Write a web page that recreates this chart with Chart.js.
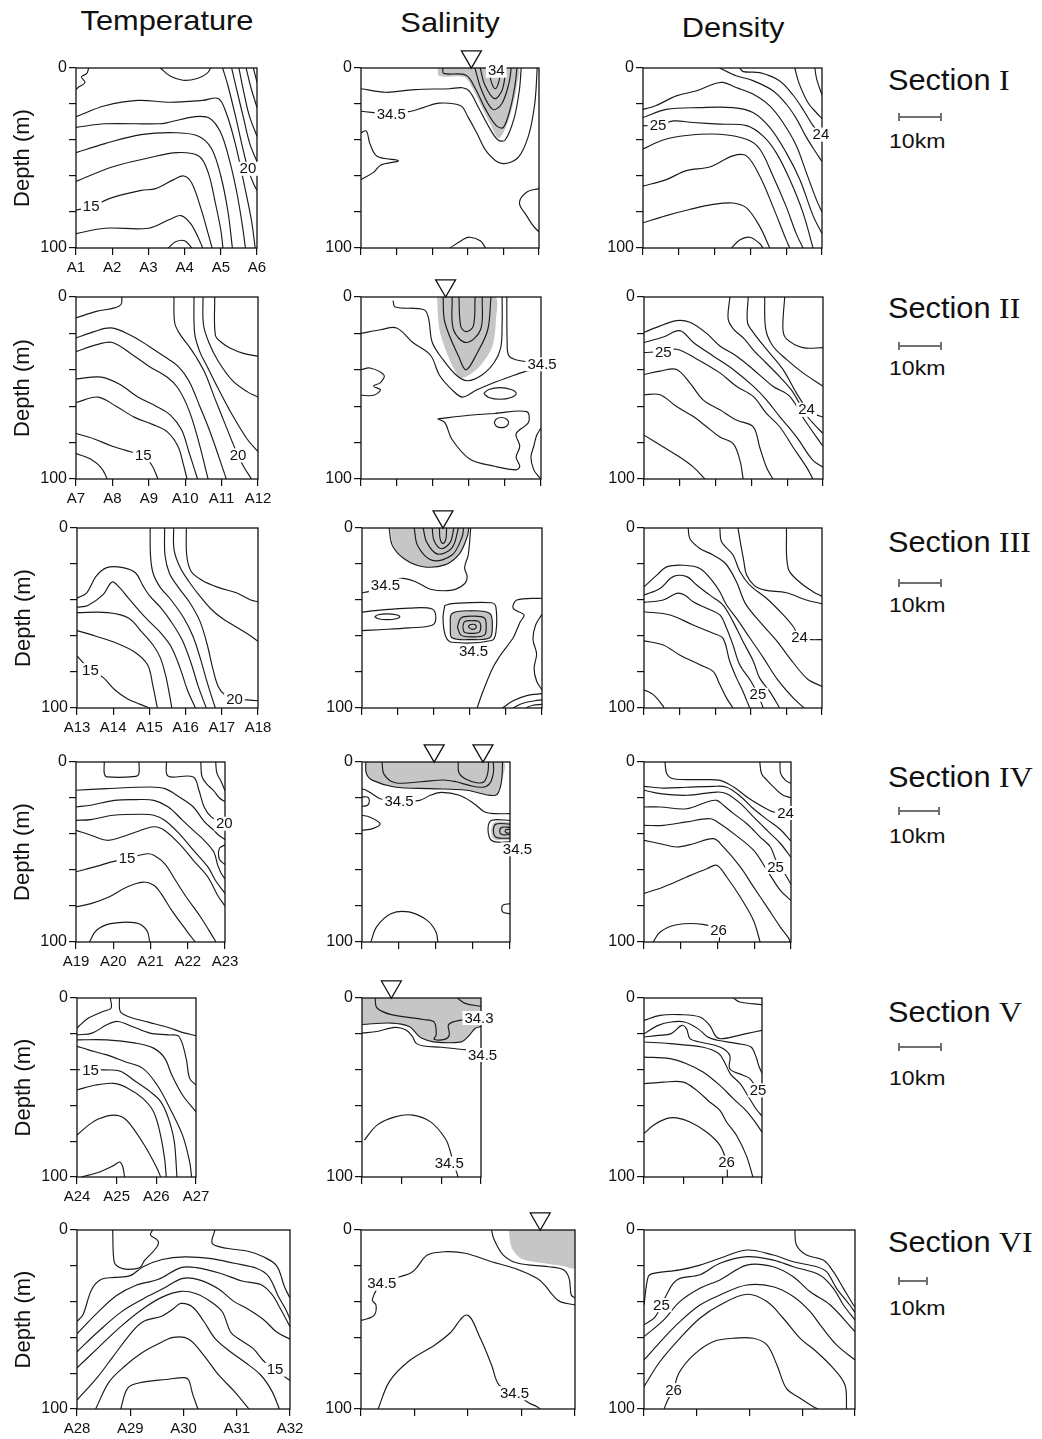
<!DOCTYPE html>
<html>
<head>
  <meta charset="utf-8">
  <title>Temperature, Salinity and Density Sections</title>
  <script src="https://cdn.jsdelivr.net/npm/chart.js"></script>
  <style>
    body { margin: 0; background: #fff; font-family: 'Liberation Sans', Arial, sans-serif; color: #111; }
    #page { position: relative; width: 1042px; height: 1439px; overflow: hidden; }
    canvas { position: absolute; }
    .title { position: absolute; font-size: 28px; line-height: 1; white-space: nowrap; transform: translateX(-50%) scaleX(1.1); }
    .sec { position: absolute; left: 888px; font-size: 29px; line-height: 1; white-space: nowrap; transform-origin: left; transform: scaleX(1.06); }
    .sec b { font-family: 'Liberation Serif', 'Times New Roman', serif; font-weight: normal; font-size: 30px; }
    .bar { position: absolute; left: 898px; height: 2px; background: #707070; }
    .bar:before, .bar:after { content: ''; position: absolute; top: -3px; width: 2px; height: 8px; background: #707070; }
    .bar:before { left: 0; }
    .bar:after { right: 0; }
    .km { position: absolute; left: 889px; font-size: 21px; line-height: 1; transform-origin: left; transform: scaleX(1.1); }
  </style>
</head>
<body>
<div id="page">
  <div class="title" style="left:167px;top:7px">Temperature</div>
  <div class="title" style="left:450px;top:9px">Salinity</div>
  <div class="title" style="left:733px;top:14px">Density</div>

  <div class="sec" style="top:65px">Section <b>I</b></div>
  <div class="bar" style="top:116px;width:44px"></div>
  <div class="km" style="top:130px">10km</div>

  <div class="sec" style="top:293px">Section <b>II</b></div>
  <div class="bar" style="top:345px;width:44px"></div>
  <div class="km" style="top:357px">10km</div>

  <div class="sec" style="top:527px">Section <b>III</b></div>
  <div class="bar" style="top:582px;width:44px"></div>
  <div class="km" style="top:594px">10km</div>

  <div class="sec" style="top:762px">Section <b>IV</b></div>
  <div class="bar" style="top:810px;width:42px"></div>
  <div class="km" style="top:825px">10km</div>

  <div class="sec" style="top:997px">Section <b>V</b></div>
  <div class="bar" style="top:1046px;width:44px"></div>
  <div class="km" style="top:1067px">10km</div>

  <div class="sec" style="top:1227px">Section <b>VI</b></div>
  <div class="bar" style="top:1280px;width:30px"></div>
  <div class="km" style="top:1297px">10km</div>
</div>

<script>
  // ---- station names (x axis of the temperature panels) ----
  const stationsI = ['A1', 'A2', 'A3', 'A4', 'A5', 'A6'];
  const stationsII = ['A7', 'A8', 'A9', 'A10', 'A11', 'A12'];
  const stationsIII = ['A13', 'A14', 'A15', 'A16', 'A17', 'A18'];
  const stationsIV = ['A19', 'A20', 'A21', 'A22', 'A23'];
  const stationsV = ['A24', 'A25', 'A26', 'A27'];
  const stationsVI = ['A28', 'A29', 'A30', 'A31', 'A32'];

  const depthTicks = [0, 50, 100];
  const markDepth = -6.3; // river mouth triangles just above the surface

  // ---- contour lines: [station, depth, station, depth, ...] ----
  const tempI = [
    [0.35, 0, 0.3, 3, 0.15, 5, 0.25, 8, 0.05, 11, 0, 12],
    [2.33, 0, 2.6, 4.5, 2.95, 6.8, 3.35, 5.8, 3.62, 3, 3.72, 0],
    [0, 27, 0.8, 21, 1.7, 18, 2.6, 19, 3.5, 18, 3.93, 17, 4.15, 25, 4.4, 42, 4.65, 65, 4.85, 85, 4.95, 100],
    [0, 33, 0.8, 31, 2.3, 31, 2.6, 30, 3.3, 27, 3.7, 28, 4.0, 36, 4.25, 52, 4.45, 70, 4.6, 88, 4.68, 100],
    [0, 47, 0.8, 42, 1.8, 37, 2.8, 36, 3.4, 38, 3.75, 45, 4.0, 60, 4.2, 80, 4.32, 100],
    [0, 63, 1, 55, 2, 50, 2.8, 47, 3.4, 49, 3.65, 58, 3.85, 75, 4.0, 90, 4.06, 100],
    [0, 79, 0.42, 77, 1.0, 72, 1.8, 68, 2.2, 67, 2.7, 62, 2.98, 60, 3.2, 64, 3.45, 78, 3.65, 92, 3.76, 100],
    [0, 92, 0.8, 89, 2.0, 89, 2.6, 84, 2.9, 82, 3.15, 86, 3.35, 93, 3.5, 100],
    [2.55, 100, 2.75, 96.5, 3.0, 96, 3.2, 100],
    [4.05, 0, 4.2, 10, 4.42, 28, 4.6, 44, 4.75, 56, 4.9, 64, 5, 68],
    [4.3, 0, 4.44, 12, 4.63, 28, 4.8, 42, 5, 52],
    [4.5, 0, 4.62, 12, 4.78, 26, 5, 38],
    [4.7, 0, 4.82, 10, 5, 22],
    [4.9, 0, 5, 8]
  ];
  const tempLabI = [[0.42, 77, '15'], [4.75, 56, '20']];

  const salFillI = [
    [2.15, 0, 4.4, 0, 4.38, 10, 4.22, 24, 4.0, 36, 3.85, 39, 3.65, 32, 3.35, 20, 3.1, 10, 2.9, 5, 2.2, 4.5, 2.15, 0]
  ];
  const salI = [
    [3.6, 0, 3.65, 7, 3.77, 11.5, 3.88, 7, 3.92, 0],
    [3.35, 0, 3.47, 9, 3.75, 17, 3.97, 12, 4.07, 0],
    [3.2, 0, 3.38, 12, 3.7, 23, 3.95, 20, 4.15, 9, 4.22, 0],
    [2.3, 0, 2.32, 3, 2.95, 4, 3.2, 11, 3.5, 23, 3.8, 32, 4.0, 33, 4.2, 22, 4.33, 9, 4.38, 0],
    [0, 11.5, 0.7, 13.5, 1.5, 12, 2.5, 11.5, 2.85, 11, 3.05, 13, 3.3, 22, 3.6, 33, 3.85, 40, 4.05, 40, 4.3, 28, 4.45, 12, 4.5, 0],
    [0, 24, 0.85, 25.5, 1.4, 24, 1.75, 22, 2.2, 19.5, 2.8, 21, 3.0, 27, 3.25, 36, 3.55, 47, 3.95, 53, 4.4, 50, 4.7, 38, 4.88, 20, 4.95, 0],
    [0, 36, 0.15, 35, 0.25, 42, 0.45, 49, 1.05, 51.5, 0.55, 54, 0.35, 58, 0, 62],
    [5, 67, 4.65, 69, 4.45, 75, 4.65, 82, 4.85, 88, 5, 91],
    [2.5, 100, 2.85, 95.5, 3.05, 94, 3.35, 96, 3.5, 100]
  ];
  const salLabI = [[3.8, 1.5, '34'], [0.85, 25.5, '34.5']];
  const salMarkI = [3.1];

  const denI = [
    [0, 23, 0.35, 21, 0.93, 15.5, 1.5, 12.6, 1.96, 9, 2.23, 8, 2.6, 10.8, 3.07, 14.5, 3.54, 21, 3.9, 30, 4.28, 43, 4.56, 58, 4.84, 73, 5, 80],
    [0, 27.5, 0.65, 23, 1.58, 22, 2.51, 22, 3.07, 24.7, 3.54, 33, 4.0, 47, 4.38, 62, 4.75, 82, 5, 92],
    [0, 32, 0.42, 32, 0.85, 29.4, 1.4, 30.3, 2.14, 31.2, 2.89, 32, 3.35, 37.7, 3.72, 47, 4.1, 62, 4.47, 80.5, 4.75, 100],
    [0, 45, 0.56, 40, 1.21, 37.5, 2.14, 36.8, 2.89, 39.6, 3.26, 45, 3.63, 60, 4.0, 77, 4.28, 92, 4.47, 100],
    [0, 65.6, 0.65, 62, 1.21, 57, 1.86, 55, 2.51, 48.8, 2.89, 48.8, 3.26, 60, 3.63, 77, 4.0, 95.5, 4.1, 100],
    [0, 86, 0.65, 82, 1.3, 78.6, 1.96, 75.8, 2.51, 75, 2.89, 77.7, 3.26, 88, 3.54, 100],
    [2.47, 100, 2.7, 95.5, 2.98, 94, 3.26, 97.5, 3.35, 100],
    [2.14, 0, 2.6, 4.3, 3.07, 7, 3.63, 12.6, 4.0, 20, 4.28, 28, 4.55, 38, 4.8, 46, 5, 52],
    [2.7, 0, 2.8, 2, 3.26, 2.6, 3.8, 7, 4.19, 15, 4.5, 24, 4.75, 32, 5, 38],
    [4.24, 0, 4.35, 8, 4.6, 19, 4.85, 25, 5, 28],
    [4.8, 0, 4.85, 6, 5, 15]
  ];
  const denLabI = [[0.42, 32, '25'], [4.97, 37, '24']];

  const tempII = [
    [0, 11.5, 0.56, 7.9, 1.06, 6, 1.24, 4, 1.26, 0],
    [0, 86, 0.4, 89, 0.7, 94, 0.86, 100],
    [0, 75, 0.5, 78, 1.0, 82, 1.5, 85, 1.85, 87, 2.1, 93, 2.25, 100],
    [0, 58, 0.6, 55, 1.1, 60, 1.6, 66, 2.1, 70, 2.5, 74, 2.8, 82, 2.95, 92, 3.05, 100],
    [0, 45, 0.7, 44, 1.2, 48, 1.7, 55, 2.2, 60, 2.6, 65, 2.9, 73, 3.1, 85, 3.34, 100],
    [0, 30, 0.6, 26, 1.0, 25, 1.5, 31, 2.0, 38, 2.5, 44, 2.8, 50, 3.1, 62, 3.35, 78, 3.63, 100],
    [0, 22.5, 0.5, 19, 0.96, 17, 1.5, 21, 2.0, 27, 2.45, 33, 2.8, 38, 3.1, 46, 3.4, 60, 3.7, 75, 4.13, 100],
    [2.69, 0, 2.71, 14, 2.84, 20, 3.1, 27, 3.3, 33, 3.55, 42, 3.8, 55, 4.1, 70, 4.3, 80, 4.45, 87, 4.6, 93, 4.82, 100],
    [3.24, 0, 3.26, 20, 3.4, 30, 3.6, 38, 3.9, 50, 4.3, 65, 4.7, 78, 5, 85],
    [3.49, 0, 3.5, 15, 3.65, 25, 3.9, 35, 4.3, 46, 4.7, 52, 5, 55],
    [3.81, 0, 3.83, 21, 4.0, 25, 4.23, 28, 4.6, 31, 5, 32.6]
  ];
  const tempLabII = [[1.85, 87, '15'], [4.45, 87, '20']];

  const salFillII = [
    [2.11, 0, 3.72, 0, 3.75, 12, 3.65, 27, 3.3, 38, 2.9, 44, 2.72, 44, 2.43, 33, 2.18, 18, 2.11, 0]
  ];
  const salII = [
    [2.72, 0, 2.77, 16, 2.92, 19, 3.12, 16, 3.17, 0],
    [2.53, 0, 2.57, 18, 2.92, 25, 3.32, 18, 3.37, 0],
    [2.28, 0, 2.33, 14, 2.72, 33, 2.92, 40, 3.22, 31, 3.52, 18, 3.61, 0],
    [0.89, 2, 0.95, 5.5, 1.75, 7, 1.88, 12, 1.98, 25, 2.3, 35, 2.65, 43, 2.95, 46, 3.35, 43, 3.7, 36, 3.88, 28, 3.92, 15, 3.92, 0],
    [4.05, 0, 4.06, 25, 4.1, 32, 4.3, 34.5, 4.65, 35.5, 5, 35.5],
    [0, 20, 0.54, 18, 0.99, 17, 1.44, 25, 1.93, 32, 2.18, 43, 2.53, 51, 2.82, 55, 3.22, 51, 3.7, 47, 4.11, 44, 4.55, 41, 5, 39],
    [0, 40, 0.25, 39, 0.64, 43, 0.54, 47, 0.35, 49, 0.54, 51, 0.35, 54, 0, 54],
    [3.41, 53, 3.55, 50.8, 3.86, 49.8, 4.17, 50.8, 4.31, 53, 4.17, 55.2, 3.86, 56.2, 3.55, 55.2, 3.41, 53],
    [2.13, 67, 3.0, 65, 3.71, 64, 4.6, 63, 4.65, 69, 4.31, 75, 4.41, 82, 4.31, 88, 4.41, 93, 4.31, 95, 3.71, 93, 3.02, 89, 2.52, 78, 2.33, 69, 2.13, 67],
    [3.7, 69, 3.76, 67, 3.9, 66.2, 4.04, 67, 4.1, 69, 4.04, 71, 3.9, 71.8, 3.76, 71, 3.7, 69],
    [5, 72, 4.88, 76, 4.8, 82, 4.72, 88, 4.8, 95, 4.95, 99, 5, 100]
  ];
  const salLabII = [[5.03, 37, '34.5']];
  const salMarkII = [2.35];

  const denII = [
    [0, 19.4, 0.35, 16.7, 0.91, 13, 1.28, 13.9, 1.75, 20, 2.12, 26.9, 2.58, 32.4, 3.05, 39.8, 3.6, 49, 4.07, 54.6, 4.5, 68, 5, 82],
    [0, 25, 0.54, 22, 1.0, 18.5, 1.38, 25, 1.93, 32.4, 2.49, 39.8, 3.05, 49, 3.42, 56.5, 3.79, 65.7, 4.26, 76.9, 4.72, 89.8, 5, 93.5],
    [0, 30.5, 0.5, 30, 0.91, 28.7, 1.47, 34, 2.12, 41.7, 2.58, 49, 3.05, 54.6, 3.42, 63.9, 3.79, 71.3, 4.16, 82.4, 4.54, 93.5, 4.72, 100],
    [0, 42.6, 0.45, 40.7, 0.91, 39.8, 1.28, 47.2, 1.65, 56.5, 2.12, 62, 2.58, 67.6, 3.05, 71.3, 3.23, 82.4, 3.42, 93.5, 3.6, 100],
    [0, 53.7, 0.45, 53.7, 0.91, 60.2, 1.38, 65.7, 1.75, 71.3, 2.12, 76.9, 2.49, 80.6, 2.68, 89.8, 2.77, 100],
    [0, 75.9, 0.54, 82.4, 1.0, 88, 1.38, 93.5, 1.7, 100],
    [2.4, 0, 2.35, 12, 2.5, 17.6, 2.8, 23, 3.05, 29, 3.4, 36, 3.8, 44, 4.15, 52, 4.5, 64, 4.8, 71, 5, 75],
    [2.91, 0, 2.89, 13.9, 3.05, 19.4, 3.42, 28.7, 3.88, 39.8, 4.26, 52.8, 4.54, 61, 4.8, 64.5, 5, 66],
    [3.37, 0, 3.4, 17.6, 3.6, 26.9, 3.98, 34.3, 4.44, 41.7, 5, 49],
    [3.93, 0, 3.88, 17.6, 3.98, 23, 4.44, 27.8, 5, 27.8]
  ];
  const denLabII = [[0.54, 30.5, '25'], [4.54, 62, '24']];

  const tempIII = [
    [0, 71, 0.37, 79, 0.72, 83, 1.05, 90, 1.4, 95, 1.75, 98, 2.0, 100],
    [0, 57, 0.5, 60, 1.1, 64, 1.6, 69, 1.95, 76, 2.1, 88, 2.22, 100],
    [0, 47, 0.85, 47, 1.42, 50, 1.8, 58, 2.1, 65, 2.3, 72, 2.45, 82, 2.55, 92, 2.62, 100],
    [0, 44, 0.3, 43, 0.72, 37, 0.97, 30, 1.17, 33, 1.42, 39, 1.72, 46, 2.0, 52, 2.3, 58, 2.6, 66, 2.85, 78, 3.05, 90, 3.27, 100],
    [0, 39, 0.27, 36, 0.52, 27, 0.82, 22, 1.27, 22, 1.62, 25, 1.82, 32, 2.02, 38, 2.3, 44, 2.6, 52, 2.9, 62, 3.15, 75, 3.35, 88, 3.57, 100],
    [2.02, 0, 2.03, 15, 2.1, 25, 2.3, 33, 2.6, 40, 2.95, 50, 3.2, 60, 3.4, 72, 3.6, 86, 3.82, 100],
    [2.42, 0, 2.43, 15, 2.55, 25, 2.8, 33, 3.1, 41, 3.4, 52, 3.6, 65, 3.75, 78, 3.9, 88, 4.1, 93, 4.35, 95, 4.7, 95.5, 5, 96],
    [2.67, 0, 2.68, 12, 2.85, 22, 3.1, 30, 3.4, 38, 3.7, 45, 4.0, 50, 4.4, 55, 4.8, 60, 5, 63],
    [3.02, 0, 3.03, 15, 3.15, 24, 3.45, 29, 3.9, 33, 4.4, 36, 4.8, 40, 5, 41]
  ];
  const tempLabIII = [[0.37, 79, '15'], [4.35, 95, '20']];

  const salFillIII = [
    [0.78, 0, 2.95, 0, 2.9, 5, 2.7, 14.5, 2.3, 20.5, 1.7, 21.5, 1.2, 17.5, 0.88, 10, 0.78, 0],
    [2.45, 55, 2.5, 47.5, 3.05, 46, 3.55, 47.5, 3.62, 55, 3.55, 61, 3.05, 62, 2.5, 61, 2.45, 55]
  ];
  const salIII = [
    [2.15, 0, 2.17, 6, 2.25, 8.5, 2.33, 6, 2.35, 0],
    [1.95, 0, 2.0, 7, 2.2, 11.5, 2.45, 8, 2.55, 0],
    [1.7, 0, 1.8, 8, 2.1, 14.5, 2.5, 11, 2.68, 0],
    [1.45, 0, 1.55, 10, 1.95, 18, 2.5, 15, 2.78, 5, 2.82, 0],
    [0.75, 0, 0.85, 10, 1.2, 17.5, 1.7, 21.5, 2.3, 20.5, 2.7, 14.5, 2.92, 5, 2.97, 0],
    [0, 36, 0.15, 35.5, 0.65, 32, 1.1, 28, 1.5, 30, 1.9, 34, 2.5, 34.5, 2.85, 31, 2.92, 27, 2.85, 22, 2.95, 15, 3.02, 0],
    [0, 46.7, 0.5, 45.6, 1.3, 44.5, 1.95, 45, 2.05, 50, 1.95, 54, 1.3, 55.5, 0.5, 56.5, 0, 57],
    [0.35, 49.3, 0.45, 48.2, 0.7, 47.7, 0.95, 48.2, 1.05, 49.3, 0.95, 50.4, 0.7, 50.9, 0.45, 50.4, 0.35, 49.3],
    [2.3, 43, 2.5, 42, 3.6, 41.5, 3.72, 44, 3.72, 58, 3.6, 62.5, 2.5, 63.5, 2.32, 60, 2.25, 50, 2.3, 43],
    [2.45, 55, 2.5, 47.5, 3.05, 46, 3.55, 47.5, 3.62, 55, 3.55, 61, 3.05, 62, 2.5, 61, 2.45, 55],
    [2.65, 55, 2.75, 50, 3.05, 49, 3.4, 50, 3.45, 55, 3.4, 59.5, 3.05, 60.5, 2.75, 59.5, 2.65, 55],
    [2.8, 55, 2.85, 52, 3.05, 51.5, 3.25, 52, 3.3, 55, 3.25, 58, 3.05, 58.5, 2.85, 58, 2.8, 55],
    [2.95, 55, 3.0, 53.8, 3.1, 53.5, 3.17, 54.3, 3.15, 55.8, 3.05, 56.3, 2.95, 55],
    [5, 39, 4.3, 40, 4.2, 44.6, 4.5, 48.3, 4.4, 52, 4.3, 56.5, 4.2, 61, 3.8, 72, 3.6, 79, 3.3, 94, 3.2, 100],
    [5, 48, 4.82, 54, 4.75, 62, 4.85, 70, 4.78, 78, 4.85, 85, 5, 90],
    [3.9, 100, 4.2, 96, 4.6, 93, 5, 92],
    [4.2, 100, 4.45, 97.5, 4.8, 96, 5, 95.5],
    [4.55, 100, 4.75, 98.5, 5, 98]
  ];
  const salLabIII = [[0.65, 32, '34.5'], [3.1, 68.6, '34.5']];
  const salMarkIII = [2.25];

  const denIII = [
    [1.24, 0, 1.29, 6, 1.57, 11.4, 1.94, 15, 2.3, 20, 2.6, 30, 2.85, 42, 3.25, 52, 3.7, 62, 4.2, 75, 4.6, 84, 5, 88],
    [2.13, 0, 2.18, 7.7, 2.5, 15, 2.69, 24, 2.97, 31.7, 3.44, 39, 3.9, 48, 4.2, 55, 4.37, 61, 4.7, 62, 5, 62],
    [2.64, 0, 2.69, 6, 2.8, 18, 2.88, 26, 3.1, 32, 3.4, 34.5, 4.0, 36, 4.56, 40, 5, 42],
    [4.0, 0, 4.05, 22.5, 4.37, 30, 4.75, 35.4, 5, 38],
    [0, 32.7, 0.36, 26.2, 0.64, 21.6, 1.1, 20.7, 1.57, 22.5, 1.94, 29.9, 2.13, 35.4, 2.32, 42.8, 2.6, 50.2, 2.97, 61, 3.35, 72, 3.72, 83.4, 4.19, 94.4, 4.5, 100],
    [0, 37.3, 0.45, 33.6, 0.82, 27, 1.2, 27, 1.48, 31.7, 1.85, 37.3, 2.22, 42.8, 2.5, 52, 2.78, 63, 3.07, 74, 3.25, 83.4, 3.53, 90.8, 3.81, 100],
    [0, 41.3, 0.54, 40, 0.92, 36.3, 1.15, 37.3, 1.38, 41, 1.76, 44.6, 2.13, 48.3, 2.32, 55.7, 2.5, 65, 2.69, 76, 3.0, 85, 3.2, 92.6, 3.35, 100],
    [0, 46.5, 0.73, 48.3, 1.38, 53.9, 1.94, 58.5, 2.22, 61.3, 2.41, 74.2, 2.6, 83.4, 2.78, 90.8, 2.97, 100],
    [0, 62.7, 0.54, 65, 1.0, 70.5, 1.57, 76, 1.94, 79.7, 2.13, 87, 2.32, 94.5, 2.5, 100],
    [0, 89.9, 0.26, 92.6, 0.54, 99, 0.56, 100]
  ];
  const denLabIII = [[4.37, 61, '24'], [3.2, 92.6, '25']];

  const tempIV = [
    [0.76, 0, 0.76, 6.5, 0.84, 8.3, 1.61, 8, 1.69, 6.5, 1.69, 0],
    [2.43, 0, 2.43, 6.5, 2.53, 8.3, 3.15, 8.3, 3.3, 15.7, 3.44, 25, 3.63, 30.5, 3.85, 33, 4, 34],
    [3.35, 0, 3.38, 8, 3.5, 12, 3.7, 16, 3.85, 20, 4, 22],
    [3.75, 0, 3.78, 6, 3.9, 11, 4, 16],
    [0, 15.7, 0.84, 14.8, 2.0, 13.9, 2.39, 14.8, 2.77, 19.4, 3.15, 25, 3.44, 33, 3.7, 38, 3.85, 41, 4, 43],
    [4, 46, 3.85, 48, 3.85, 54, 4, 57],
    [0, 25, 0.4, 24, 1.03, 21.3, 1.61, 20.9, 2.09, 21.3, 2.48, 25, 2.86, 32.4, 3.15, 38, 3.44, 43.5, 3.7, 50, 3.8, 57, 3.9, 62, 4, 65],
    [0, 32.4, 0.4, 32, 1.0, 29.6, 1.8, 29, 2.09, 29.6, 2.38, 32.4, 2.77, 39.8, 3.15, 49, 3.54, 58.3, 3.75, 66, 4, 73],
    [0, 38, 0.4, 40.7, 0.84, 43.5, 1.22, 41.7, 1.61, 38.9, 2.09, 36, 2.38, 38, 2.77, 45.4, 3.15, 54.6, 3.54, 63.9, 3.8, 74, 4, 80],
    [0, 61, 0.55, 58, 0.96, 55.5, 1.37, 53.7, 1.9, 51, 2.09, 51.8, 2.38, 56.5, 2.67, 65.7, 2.96, 75, 3.34, 86, 3.73, 99, 3.76, 100],
    [0, 80.5, 0.4, 78.7, 0.88, 75, 1.37, 69.4, 1.8, 66.7, 2.09, 68.5, 2.28, 73, 2.57, 82.4, 2.96, 93.5, 3.2, 100],
    [0.36, 100, 0.55, 93.5, 0.93, 89.8, 1.61, 89.4, 1.9, 93.5, 1.98, 100]
  ];
  const tempLabIV = [[3.98, 34.3, '20'], [1.37, 53.7, '15']];

  const salFillIV = [
    [0.1, 0, 3.8, 0, 3.76, 12, 3.61, 18.5, 2.83, 15.7, 1.85, 14.8, 0.88, 13.9, 0.29, 10.2, 0.12, 6.5, 0.1, 0],
    [4, 33.5, 3.58, 33.5, 3.49, 38, 3.54, 42.5, 3.65, 43.3, 4, 43.3]
  ];
  const salIV = [
    [0.1, 0, 0.12, 6.5, 0.29, 10.2, 0.88, 13.9, 1.85, 14.8, 2.83, 15.7, 3.61, 18.5, 3.76, 12, 3.8, 0],
    [0.54, 0, 0.6, 7, 0.9, 11.5, 1.6, 11, 2.2, 10, 2.55, 11, 2.9, 13, 3.25, 14, 3.45, 12, 3.55, 6, 3.55, 0],
    [2.6, 0, 2.62, 6, 2.8, 9.5, 3.1, 11.5, 3.3, 11, 3.4, 6, 3.42, 0],
    [0, 15, 0.1, 15.5, 0.3, 18, 0.49, 20.4, 1.0, 22, 1.56, 21.3, 1.85, 18.5, 2.15, 16.9, 2.63, 18.5, 3.02, 23, 3.32, 27.8, 3.61, 28.7, 4, 28.7],
    [4, 32.4, 3.51, 32.4, 3.41, 36, 3.46, 42.6, 3.61, 44.4, 4, 44.4],
    [4, 34.5, 3.62, 34.5, 3.55, 38, 3.6, 41.5, 3.7, 42.3, 4, 42.3],
    [4, 36.3, 3.78, 36.3, 3.72, 38.5, 3.78, 40.3, 4, 40.3],
    [4, 37.5, 3.9, 37.5, 3.87, 38.7, 3.92, 39.5, 4, 39.5],
    [0, 19.4, 0.15, 19.5, 0.2, 21.5, 0.15, 24, 0, 24.6],
    [0, 29.6, 0.2, 30.5, 0.49, 34.3, 0.29, 37, 0, 38],
    [4, 78.7, 3.8, 79.6, 3.8, 83.3, 4, 84.3],
    [0.24, 100, 0.39, 91.7, 0.78, 84.3, 1.27, 83.3, 1.76, 88, 2.0, 94.4, 2.05, 100]
  ];
  const salLabIV = [[1.0, 22, '34.5'], [4.2, 48.5, '34.5']];
  const salMarkIV = [1.95, 3.27];

  const denIV = [
    [0.57, 0, 0.62, 6.5, 0.8, 9.3, 1.53, 9.8, 2.07, 10.2, 2.44, 13.9, 2.8, 19.4, 3.16, 24, 3.53, 27.8, 3.85, 28.2, 4, 28.2],
    [3.15, 0, 3.2, 6.5, 3.35, 10.2, 3.53, 14, 3.75, 18, 4, 20],
    [3.7, 0, 3.72, 6.5, 3.85, 10.2, 4, 12],
    [0, 13.5, 0.53, 14.5, 1.16, 14, 1.89, 13.5, 2.25, 14, 2.62, 19, 2.98, 26, 3.35, 32, 3.71, 37.5, 4, 44],
    [0, 15.7, 0.44, 17.6, 1.16, 18.5, 1.98, 16.7, 2.25, 17.6, 2.62, 23, 2.98, 30.5, 3.35, 38, 3.7, 45, 4, 53],
    [0, 25, 0.44, 25, 1.16, 26, 1.71, 22.2, 1.98, 21.3, 2.16, 24, 2.44, 28.7, 2.8, 34.3, 3.16, 41.7, 3.44, 47.2, 3.6, 55, 3.8, 61, 4, 68],
    [0, 35.2, 0.53, 35.2, 1.16, 33.3, 1.8, 31.5, 2.07, 34.3, 2.44, 39.8, 2.98, 49, 3.35, 60.2, 3.71, 71.3, 4, 76.9],
    [0, 43.5, 0.44, 45.4, 0.89, 47.2, 1.35, 45.4, 1.89, 42.6, 2.16, 47.2, 2.62, 58.3, 2.98, 69.4, 3.35, 80.6, 3.71, 91.7, 3.94, 98, 3.97, 100],
    [0, 73, 0.53, 69.4, 1.16, 63.9, 1.71, 59.3, 1.98, 57.4, 2.25, 63.9, 2.62, 75, 2.98, 88, 3.16, 100],
    [0.25, 100, 0.44, 94.4, 0.89, 90.4, 1.6, 90.2, 2.03, 93.5, 2.05, 100]
  ];
  const denLabIV = [[3.85, 28.3, '24'], [3.58, 58.3, '25'], [2.03, 93.5, '26']];

  const tempV = [
    [0.84, 0, 0.86, 5.6, 0.66, 7.5, 0.29, 11.2, 0.04, 15.9, 0, 17],
    [1.07, 0, 1.09, 7.5, 1.29, 10.3, 1.8, 13.5, 2.3, 16.5, 2.7, 19.5, 3, 21],
    [0, 20.6, 0.38, 19.6, 0.75, 15, 1.02, 13.1, 1.39, 15.9, 1.84, 19.6, 2.3, 20.6, 2.57, 21.5, 2.75, 33.6, 2.84, 44.9, 3, 48.6],
    [0, 23.4, 0.75, 23.4, 1.48, 25.2, 1.93, 28, 2.21, 33.6, 2.39, 43, 2.66, 54.2, 3, 63.6],
    [0, 27, 0.29, 29, 0.75, 31.8, 1.2, 35.5, 1.66, 39.3, 2.02, 48.6, 2.3, 59.8, 2.66, 76.6, 2.84, 91.6, 2.89, 100],
    [0, 40, 0.34, 40.2, 0.84, 40.2, 1.11, 41.1, 1.48, 46.7, 1.84, 52.3, 2.11, 57.9, 2.3, 67, 2.45, 80, 2.52, 100],
    [0, 51.4, 0.47, 48.6, 0.93, 47.7, 1.29, 50.5, 1.66, 56.1, 1.93, 63.6, 2.1, 76, 2.21, 90, 2.25, 100],
    [0, 76.6, 0.29, 71, 0.57, 67.3, 0.93, 65.4, 1.2, 67.3, 1.48, 74.8, 1.75, 84.1, 2.02, 95.3, 2.11, 100],
    [0.11, 100, 0.57, 97.2, 0.93, 93.5, 1.07, 91.6, 1.15, 94, 1.2, 100]
  ];
  const tempLabV = [[0.34, 40.2, '15']];

  const salFillV = [
    [0, 0, 3, 0, 3, 15.9, 2.85, 17, 2.7, 21, 2.5, 24.5, 1.8, 24.5, 1.5, 22.4, 1.36, 19.6, 1.19, 15.9, 0.74, 14, 0, 14.8]
  ];
  const salV = [
    [0, 14.8, 0.74, 14, 1.19, 15.9, 1.36, 19.6, 1.5, 22.4, 1.8, 24.5, 2.5, 24.5, 2.7, 21, 2.85, 17, 3, 15.9],
    [0.33, 0, 0.38, 5.6, 0.74, 9.3, 1.55, 12, 1.82, 13.5, 1.87, 20.6, 1.82, 23, 2.1, 23, 2.2, 20.6, 2.18, 15, 2.35, 13, 2.6, 12, 2.8, 11.5, 3, 11],
    [2.4, 0, 2.6, 3, 3, 4.7],
    [0, 19.6, 0.38, 18.7, 0.83, 16.4, 1.1, 17.8, 1.27, 21.5, 1.36, 25.2, 1.55, 26.8, 2.0, 27.5, 2.64, 29, 3, 30],
    [0.06, 79.4, 0.38, 71, 0.83, 66.4, 1.28, 65.4, 1.73, 69.2, 2.1, 78.5, 2.23, 86, 2.3, 92.5, 2.38, 97, 2.42, 100]
  ];
  const salLabV = [[2.95, 11.2, '34.3'], [3.04, 31.8, '34.5'], [2.2, 92.5, '34.5']];
  const salMarkV = [0.74];

  const denV = [
    [2.27, 0, 2.43, 2.2, 3, 3.7],
    [0, 12.5, 0.41, 9.7, 0.91, 9.3, 1.42, 10.6, 1.67, 15.3, 1.84, 21.8, 2.01, 22.7, 2.6, 19.9, 3, 18.1],
    [0, 20, 0.36, 15.3, 0.69, 13.4, 1.03, 13.4, 1.37, 17.1, 1.62, 21.8, 1.87, 23.6, 2.38, 25.5, 2.72, 27.4, 2.85, 33, 2.92, 38, 3, 42],
    [0, 21.8, 0.36, 20.9, 0.69, 19.9, 0.96, 15.3, 1.08, 17.1, 1.17, 22.7, 1.42, 24.6, 1.93, 27.4, 2.18, 32, 2.18, 39.5, 2.52, 43.2, 2.69, 45, 2.9, 51.6, 3, 55],
    [0, 24.6, 0.66, 25.5, 1.5, 27.5, 1.9, 31, 2.05, 36, 2.2, 42.5, 2.45, 48, 2.65, 55, 2.85, 62, 3, 66],
    [0, 33, 0.66, 33.9, 1.08, 36.7, 1.5, 41.3, 1.93, 48.8, 2.27, 56.2, 2.6, 63, 2.85, 70, 3, 75],
    [0, 47.9, 0.49, 47, 1.0, 47, 1.34, 51.6, 1.67, 58.1, 1.93, 62.8, 2.1, 69.3, 2.35, 76.7, 2.6, 87.9, 2.77, 100],
    [0, 75.8, 0.24, 71.1, 0.57, 67.4, 0.83, 67, 1.17, 69.3, 1.59, 74.9, 1.93, 82.3, 2.1, 92, 2.12, 100]
  ];
  const denLabV = [[2.9, 51.6, '25'], [2.1, 92, '26']];

  const tempVI = [
    [0.67, 0, 0.7, 18, 0.8, 21, 0.96, 22, 1.18, 21, 1.27, 17, 1.5, 9.5, 1.52, 6, 1.38, 2.8, 1.42, 0],
    [2.59, 0, 2.54, 7.5, 2.81, 10.2, 3.23, 12, 3.5, 15, 3.75, 20, 3.9, 32, 4, 38],
    [0, 51, 0.11, 47.5, 0.28, 33, 0.46, 27.5, 0.7, 26.5, 1.0, 25.5, 1.24, 20.5, 1.6, 16.5, 2.02, 15, 2.52, 16, 2.95, 18.6, 3.38, 21.5, 3.6, 26, 3.78, 37, 3.93, 45, 4, 50],
    [0, 58, 0.39, 46, 0.75, 36.5, 1.1, 31, 1.53, 27.5, 1.95, 21, 2.24, 21, 2.67, 24, 3.1, 28.5, 3.45, 30.5, 3.66, 36, 3.82, 44, 4, 54],
    [0, 68, 0.39, 57, 0.82, 46, 1.24, 38.5, 1.6, 33, 1.99, 27, 2.31, 28, 2.66, 33, 2.95, 40, 3.2, 44, 3.5, 50, 3.75, 57, 4, 61],
    [0, 77, 0.39, 66, 0.82, 54, 1.24, 44, 1.6, 37.5, 1.95, 34.3, 2.24, 35.6, 2.52, 40.2, 2.73, 45.8, 2.88, 56.8, 3.02, 60.5, 3.3, 66, 3.52, 73.6, 3.72, 78, 3.9, 82, 4, 84],
    [0, 95, 0.39, 82, 0.67, 71, 1.03, 57, 1.24, 51.2, 1.6, 48, 1.81, 44, 1.95, 41, 2.17, 43, 2.38, 51, 2.59, 60.5, 2.88, 68, 3.16, 74, 3.45, 81, 3.66, 90, 3.8, 100],
    [0.35, 100, 0.6, 85, 0.9, 76, 1.2, 69, 1.5, 64, 1.81, 60, 2.1, 61, 2.38, 70, 2.66, 81, 2.95, 90, 3.23, 100],
    [0.82, 100, 0.96, 88, 1.24, 85, 1.67, 83.5, 2.02, 82.5, 2.1, 84, 2.17, 91.4, 2.27, 100]
  ];
  const tempLabVI = [[3.72, 78, '15']];

  const salFillVI = [
    [2.76, 0, 4, 0, 4, 21, 3.75, 20, 3.4, 18.5, 3.0, 16, 2.82, 10, 2.76, 0]
  ];
  const salVI = [
    [2.44, 0, 2.48, 4.7, 2.66, 14, 2.94, 18.6, 3.5, 20.5, 3.79, 22.3, 3.89, 27, 3.93, 36.3, 4, 38],
    [0, 50.3, 0.04, 50.3, 0.25, 47.5, 0.28, 41.9, 0.21, 39, 0.39, 30, 0.92, 24.2, 1.03, 21.4, 1.24, 14, 1.59, 12.1, 1.95, 13, 2.44, 17.7, 2.87, 21.4, 3.29, 27, 3.43, 30.7, 3.58, 36.3, 3.72, 40, 4, 41.9],
    [0.32, 100, 0.53, 84.7, 0.88, 73.6, 1.38, 64.2, 1.66, 57.7, 1.98, 47.5, 2.23, 60.5, 2.44, 75.4, 2.58, 86.6, 2.87, 91.2, 3.15, 96.8, 3.29, 98.7, 3.35, 100]
  ];
  const salLabVI = [[0.39, 30, '34.5'], [2.87, 91.2, '34.5']];
  const salMarkVI = [3.35];

  const denVI = [
    [2.86, 0, 2.89, 8.4, 3.08, 14, 3.4, 16.8, 3.59, 23.3, 3.78, 32.6, 3.97, 41.9, 4, 43],
    [0, 42, 0.08, 26, 0.18, 24.2, 0.68, 22.3, 1.06, 19.6, 1.44, 15.8, 1.95, 11.2, 2.45, 14, 2.83, 17.7, 3.27, 20.5, 3.46, 23.3, 3.65, 32.6, 3.9, 41.9, 4, 46],
    [0, 53, 0.2, 49, 0.33, 42, 0.43, 36, 0.55, 30, 0.68, 27, 1.06, 25, 1.44, 18.6, 1.95, 14.9, 2.45, 16.8, 2.83, 20.5, 3.33, 25.1, 3.59, 32.6, 3.78, 41.9, 4, 50.3],
    [0, 59.6, 0.37, 50.3, 0.68, 40, 1.06, 32.6, 1.44, 27.9, 1.95, 19.6, 2.45, 20.5, 2.83, 26.1, 3.15, 34.5, 3.53, 41.9, 4, 56.8],
    [0, 72.6, 0.37, 60.5, 0.68, 51.2, 1.06, 41.9, 1.44, 36.3, 1.95, 30.7, 2.45, 31.7, 2.83, 37.2, 3.15, 45.6, 3.34, 53, 3.65, 64.2, 4, 72.6],
    [0, 87.5, 0.3, 73.6, 0.68, 60.5, 1.06, 49.3, 1.44, 41.9, 1.95, 35.9, 2.33, 40, 2.64, 49.3, 2.96, 60.5, 3.27, 68, 3.59, 77.3, 3.81, 86.6, 3.84, 100],
    [0.38, 100, 0.45, 95, 0.56, 89, 0.66, 80, 0.94, 69.8, 1.31, 62.4, 1.69, 60.5, 2.07, 60.5, 2.33, 64.2, 2.52, 75.4, 2.7, 88.5, 2.96, 94, 3.21, 98.7, 3.3, 100]
  ];
  const denLabVI = [[0.33, 42, '25'], [0.56, 89.4, '26']];

  // ---- page layout: plot boxes [left, top, right, bottom] in page pixels ----
  const rows = [
    { y: [68, 248],   t: [76, 257], s: [361, 539], d: [643, 822], st: stationsI,
      T: [tempI, tempLabI], S: [salI, salLabI, salFillI, salMarkI], D: [denI, denLabI] },
    { y: [297, 479],  t: [76, 258], s: [361, 541], d: [644, 823], st: stationsII,
      T: [tempII, tempLabII], S: [salII, salLabII, salFillII, salMarkII], D: [denII, denLabII] },
    { y: [528, 708],  t: [77, 258], s: [362, 542], d: [644, 822], st: stationsIII,
      T: [tempIII, tempLabIII], S: [salIII, salLabIII, salFillIII, salMarkIII], D: [denIII, denLabIII] },
    { y: [762, 942],  t: [76, 225], s: [362, 510], d: [644, 791], st: stationsIV,
      T: [tempIV, tempLabIV], S: [salIV, salLabIV, salFillIV, salMarkIV], D: [denIV, denLabIV] },
    { y: [998, 1177], t: [77, 196], s: [362, 481], d: [644, 762], st: stationsV,
      T: [tempV, tempLabV], S: [salV, salLabV, salFillV, salMarkV], D: [denV, denLabV] },
    { y: [1230, 1409], t: [77, 290], s: [361, 575], d: [644, 855], st: stationsVI,
      T: [tempVI, tempLabVI], S: [salVI, salLabVI, salFillVI, salMarkVI], D: [denVI, denLabVI] }
  ];

  Chart.defaults.font.family = "'Liberation Sans', Arial, sans-serif";
  Chart.defaults.color = '#111';

  function pts(a) {
    const out = [];
    for (let i = 0; i < a.length; i += 2) out.push({ x: a[i], y: a[i + 1] });
    return out;
  }

  // box round the plot
  const framePlugin = {
    id: 'frame',
    afterDatasetsDraw(chart) {
      const a = chart.chartArea, ctx = chart.ctx;
      ctx.save();
      ctx.strokeStyle = '#111';
      ctx.lineWidth = 1.3;
      ctx.strokeRect(a.left, a.top, a.right - a.left, a.bottom - a.top);
      ctx.restore();
    }
  };

  // contour value labels with a white patch behind them
  const labelPlugin = {
    id: 'clabels',
    afterDraw(chart, args, opts) {
      const ctx = chart.ctx, xs = chart.scales.x, ys = chart.scales.y;
      ctx.save();
      ctx.font = "15px 'Liberation Sans', Arial, sans-serif";
      ctx.textAlign = 'center';
      ctx.textBaseline = 'middle';
      (opts.items || []).forEach(([x, y, t]) => {
        const px = xs.getPixelForValue(x), py = ys.getPixelForValue(y);
        const w = ctx.measureText(t).width;
        ctx.fillStyle = '#fff';
        ctx.fillRect(px - w / 2 - 2, py - 7, w + 4, 14);
        ctx.fillStyle = '#111';
        ctx.fillText(t, px, py + 0.5);
      });
      ctx.restore();
    }
  };

  const page = document.getElementById('page');

  function makePanel(box, lines, labels, fills, marks, stations, withTitle) {
    const padL = withTitle ? 66 : 60, padT = 28, padR = 32, padB = 36;
    const [l, t, r, b] = box;
    const w = r - l + padL + padR, h = b - t + padT + padB;
    const cv = document.createElement('canvas');
    cv.width = w; cv.height = h;
    cv.style.left = (l - padL) + 'px';
    cv.style.top = (t - padT) + 'px';
    cv.style.width = w + 'px';
    cv.style.height = h + 'px';
    page.appendChild(cv);

    const datasets = [];
    (fills || []).forEach(f => datasets.push({
      data: pts(f), fill: 'shape', backgroundColor: '#c6c6c6',
      borderColor: 'rgba(0,0,0,0)', borderWidth: 0, pointRadius: 0, tension: 0.3, order: 2
    }));
    lines.forEach(c => datasets.push({
      data: pts(c), fill: false, borderColor: '#1a1a1a', borderWidth: 1.15,
      pointRadius: 0, tension: 0.35, order: 1
    }));
    if (marks) datasets.push({
      data: marks.map(x => ({ x: x, y: markDepth })), showLine: false,
      pointStyle: 'triangle', pointRotation: 180, pointRadius: 11.5, pointHoverRadius: 15,
      pointBackgroundColor: '#fff', pointBorderColor: '#111', pointBorderWidth: 1.3,
      clip: false, order: 0
    });

    const n = stations.length;
    new Chart(cv, {
      type: 'line',
      data: { datasets: datasets },
      options: {
        responsive: false,
        animation: false,
        devicePixelRatio: 1,
        events: [],
        layout: { padding: { left: 0, top: padT, right: padR, bottom: 0 } },
        plugins: { legend: { display: false }, tooltip: { enabled: false }, clabels: { items: labels } },
        scales: {
          x: {
            type: 'linear', min: 0, max: n - 1,
            border: { display: false },
            grid: { drawOnChartArea: false, tickLength: 7, color: '#111', lineWidth: 1.2 },
            ticks: {
              stepSize: 1, autoSkip: false, maxRotation: 0, padding: 4,
              font: { size: 15 }, color: '#111',
              callback: v => (withTitle ? (stations[v] || '') : '')
            },
            afterFit: s => { s.height = padB; }
          },
          y: {
            type: 'linear', min: 0, max: 100, reverse: true,
            border: { display: false },
            grid: { drawOnChartArea: false, tickLength: 7, color: '#111', lineWidth: 1.2 },
            ticks: {
              stepSize: 10, padding: 2, font: { size: 16 }, color: '#111',
              callback: v => (depthTicks.includes(v) ? String(v) : '')
            },
            title: { display: withTitle, text: 'Depth (m)', font: { size: 22 }, color: '#111', padding: 0 },
            afterFit: s => { s.width = padL; }
          }
        }
      },
      plugins: [framePlugin, labelPlugin]
    });
  }

  rows.forEach(row => {
    const [top, bottom] = row.y;
    makePanel([row.t[0], top, row.t[1], bottom], row.T[0], row.T[1], null, null, row.st, true);
    makePanel([row.s[0], top, row.s[1], bottom], row.S[0], row.S[1], row.S[2], row.S[3], row.st, false);
    makePanel([row.d[0], top, row.d[1], bottom], row.D[0], row.D[1], null, null, row.st, false);
  });
</script>
</body>
</html>
